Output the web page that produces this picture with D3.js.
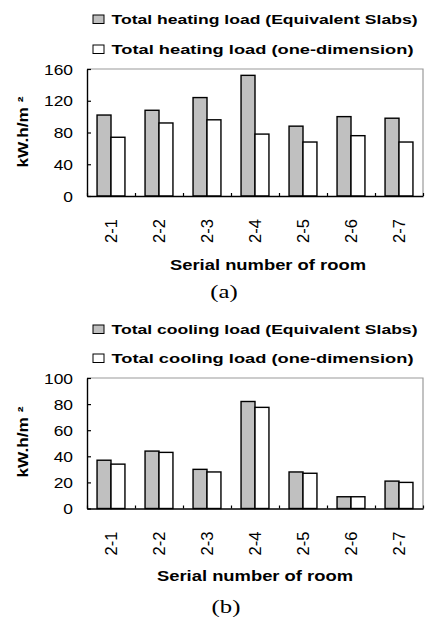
<!DOCTYPE html>
<html>
<head>
<meta charset="utf-8">
<script src="https://cdn.jsdelivr.net/npm/d3@7"></script>
<style>
  body { margin: 0; background: #fff; }
  svg { display: block; }
  text { font-family: Arial, "Liberation Sans", sans-serif; fill: #000; }
</style>
</head>
<body>
<div id="chart"></div>
<script>
// rooms on the x axis
const rooms = ["2-1", "2-2", "2-3", "2-4", "2-5", "2-6", "2-7"]

// (a) heating load, kW.h/m2
const heatingSlabs = [102, 108, 124, 152, 88, 100, 98]
const heatingOneDim = [74, 92, 96, 78, 68, 76, 68]
const heatingTicks = [0, 40, 80, 120, 160]

// (b) cooling load, kW.h/m2
const coolingSlabs = [37, 44, 30, 82, 28, 9, 21]
const coolingOneDim = [34, 43, 28, 77.5, 27, 9, 20]
const coolingTicks = [0, 20, 40, 60, 80, 100]

const seriesKeys = ["slabs", "oneDim"]
const fills = { slabs: "#c0c0c0", oneDim: "#ffffff" }

const W = 425, H = 621
const svg = d3.select("#chart").append("svg")
    .attr("width", W)
    .attr("height", H)

// stretch text along its own direction (the source figure has wide glyphs)
function stretch(sel, k) {
    sel.each(function () {
        let len = this.getComputedTextLength()
        d3.select(this).attr("textLength", len * k).attr("lengthAdjust", "spacingAndGlyphs")
    })
}

function drawChart(cfg) {
    let g = svg.append("g")
    let left = 87, right = 423

    /**
     * Scales
     */
    let x0 = d3.scaleBand().domain(rooms).range([left, right]).padding(0)
    let x1 = d3.scaleBand().domain(seriesKeys).range([0, x0.bandwidth()]).paddingInner(0).paddingOuter(0.72)
    let y = d3.scaleLinear().domain([0, cfg.ticks[cfg.ticks.length - 1]]).range([cfg.bottom, cfg.top])
    let xEdge = d3.scaleLinear().domain([0, rooms.length]).range([left, right])

    let data = rooms.map((r, i) => ({ room: r, slabs: cfg.slabs[i], oneDim: cfg.oneDim[i] }))

    /**
     * Legend
     */
    cfg.legend.forEach((label, i) => {
        let by = cfg.legendY + i * cfg.legendGap
        g.append("rect")
            .attr("x", 93).attr("y", by - 9)
            .attr("width", 11).attr("height", 8.5)
            .attr("fill", fills[seriesKeys[i]])
            .attr("stroke", "#000").attr("stroke-width", 1)
        g.append("text")
            .attr("x", 111.5).attr("y", by)
            .attr("font-size", 13.5).attr("font-weight", "bold")
            .attr("textLength", cfg.legendLen[i]).attr("lengthAdjust", "spacingAndGlyphs")
            .text(label)
    })

    /**
     * Frame (top and right in gray)
     */
    g.append("path")
        .attr("d", `M${left},${cfg.top}H${right}V${cfg.bottom}`)
        .attr("fill", "none").attr("stroke", "#9a9a9a").attr("stroke-width", 1.2)

    /**
     * Bars
     */
    g.append("g").selectAll("g")
        .data(data)
        .join("g")
        .attr("transform", d => `translate(${x0(d.room)},0)`)
        .selectAll("rect")
        .data(d => seriesKeys.map(k => ({ key: k, value: d[k] })))
        .join("rect")
        .attr("x", d => x1(d.key))
        .attr("width", x1.bandwidth())
        .attr("y", d => y(d.value))
        .attr("height", d => y(0) - y(d.value))
        .attr("fill", d => fills[d.key])
        .attr("stroke", "#000")
        .attr("stroke-width", 1.4)

    /**
     * Axes
     */
    let yAxis = g.append("g")
        .attr("transform", `translate(${left},0)`)
        .call(d3.axisLeft(y).tickValues(cfg.ticks).tickSizeInner(-4).tickSizeOuter(0).tickPadding(14))
    yAxis.select(".domain").attr("stroke", "#000").attr("stroke-width", 1.4)
    yAxis.selectAll(".tick line").attr("stroke", "#000").attr("stroke-width", 1.2)
    yAxis.selectAll(".tick text")
        .attr("font-size", 14.5)
        .attr("font-family", "Arial, 'Liberation Sans', sans-serif")
        .attr("dy", "0.36em")
        .call(stretch, 1.2)

    // small ticks on the room boundaries
    let edgeAxis = g.append("g")
        .attr("transform", `translate(0,${cfg.bottom})`)
        .call(d3.axisBottom(xEdge).tickValues(d3.range(rooms.length + 1)).tickSizeInner(-3).tickSizeOuter(0).tickFormat(""))
    edgeAxis.select(".domain").attr("stroke", "#000").attr("stroke-width", 1.4)
    edgeAxis.selectAll(".tick line").attr("stroke", "#000").attr("stroke-width", 1.2)

    // room labels, rotated
    let roomAxis = g.append("g")
        .attr("transform", `translate(0,${cfg.labelY})`)
        .call(d3.axisBottom(x0).tickSize(0).tickPadding(0))
    roomAxis.select(".domain").remove()
    roomAxis.selectAll(".tick text")
        .attr("font-size", 16.5)
        .attr("font-family", "Arial, 'Liberation Sans', sans-serif")
        .attr("text-anchor", "middle")
        .attr("transform", "rotate(-90)")
        .attr("x", 0).attr("y", 0)
        .attr("dy", "0.36em")

    /**
     * Titles
     */
    g.append("text")
        .attr("transform", `translate(${cfg.yTitleX},${cfg.yTitleY}) rotate(-90)`)
        .attr("text-anchor", "middle")
        .attr("dy", "0.36em")
        .attr("font-size", 14.5).attr("font-weight", "bold")
        .attr("textLength", 71).attr("lengthAdjust", "spacingAndGlyphs")
        .text("kW.h/m \u00b2")

    g.append("text")
        .attr("x", cfg.xTitleX).attr("y", cfg.xTitleY)
        .attr("text-anchor", "middle")
        .attr("font-size", 14).attr("font-weight", "bold")
        .attr("textLength", 196).attr("lengthAdjust", "spacingAndGlyphs")
        .text("Serial number of room")

    g.append("text")
        .attr("x", cfg.capX).attr("y", cfg.capY)
        .attr("text-anchor", "middle")
        .attr("font-size", 19)
        .style("font-family", "'Times New Roman', 'Liberation Serif', serif")
        .text(cfg.caption)
        .call(stretch, 1.3)
}

drawChart({
    slabs: heatingSlabs, oneDim: heatingOneDim, ticks: heatingTicks,
    top: 69, bottom: 196,
    legend: ["Total heating load (Equivalent Slabs)", "Total heating load (one-dimension)"],
    legendLen: [306, 302], legendY: 24, legendGap: 30,
    labelY: 231, yTitleX: 23, yTitleY: 132,
    xTitleX: 268, xTitleY: 270, capX: 224, capY: 298, caption: "(a)"
})

drawChart({
    slabs: coolingSlabs, oneDim: coolingOneDim, ticks: coolingTicks,
    top: 378, bottom: 508.5,
    legend: ["Total cooling load (Equivalent Slabs)", "Total cooling load (one-dimension)"],
    legendLen: [306, 302], legendY: 334, legendGap: 29,
    labelY: 543.5, yTitleX: 23, yTitleY: 442,
    xTitleX: 255, xTitleY: 581, capX: 226, capY: 613, caption: "(b)"
})
</script>
</body>
</html>
